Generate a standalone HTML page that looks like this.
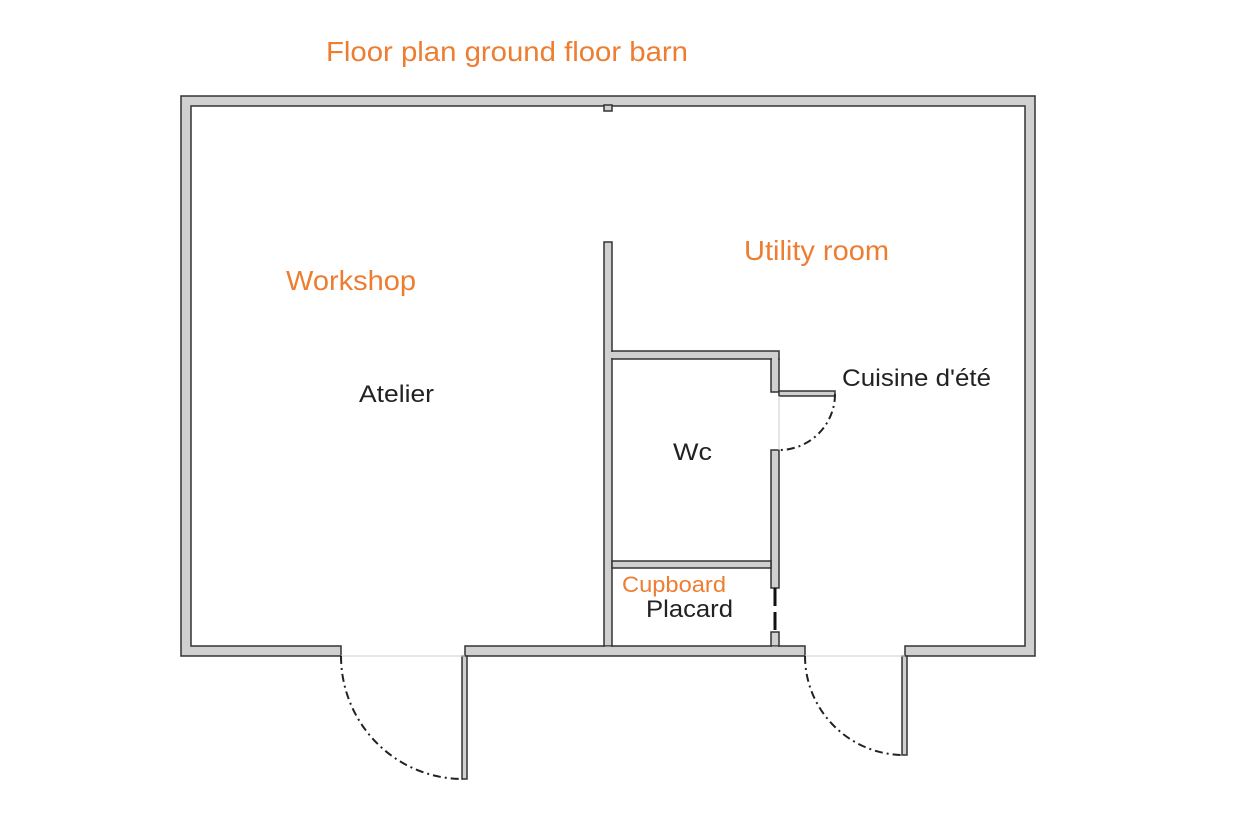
<!DOCTYPE html>
<html><head><meta charset="utf-8"><style>
html,body{margin:0;padding:0;background:#fff;width:1260px;height:832px;overflow:hidden}
</style></head><body>
<svg width="1260" height="832" xmlns="http://www.w3.org/2000/svg" font-family="Liberation Sans, DejaVu Sans, sans-serif">
<g stroke="#333" stroke-width="1.5" fill="#d0d0d0">
<path d="M181,96 H1035 V656 H905 V646 H1025 V106 H191 V646 H341 V656 H181 Z"/>
<path d="M465,646 H805 V656 H465 Z"/>
<rect x="604" y="105" width="8" height="6"/>
<rect x="604" y="242" width="8" height="404"/>
<rect x="612" y="351" width="167" height="8"/>
<rect x="771" y="359" width="8" height="33"/>
<rect x="771" y="450" width="8" height="138"/>
<rect x="612" y="561" width="159" height="7"/>
<rect x="771" y="632" width="8" height="14"/>
<rect x="779" y="391" width="56" height="5"/>
<rect x="462" y="656" width="5" height="123"/>
<rect x="902" y="656" width="5" height="99"/>
</g>
<g fill="#d0d0d0">
<rect x="605" y="646.5" width="6" height="8"/>
<rect x="772" y="646.5" width="6" height="8"/>
<rect x="605" y="352" width="8" height="6"/>
<rect x="772" y="358" width="6" height="2"/>
</g>
<path d="M775,588 V632" stroke="#111" stroke-width="3" stroke-dasharray="18,6"/>
<g stroke="#ccc" stroke-width="1">
<line x1="341" y1="656" x2="465" y2="656"/>
<line x1="805" y1="656" x2="905" y2="656"/>
<line x1="779" y1="396" x2="779" y2="450"/>
</g>
<g fill="none" stroke="#222" stroke-width="2" stroke-dasharray="8,4,2,4">
<path d="M341,656 A122,123 0 0 0 463,779"/>
<path d="M805,656 A99,99 0 0 0 904,755"/>
<path d="M835,394 A56,56 0 0 1 779,450"/>
</g>
<g font-size="28" fill="#ed7d31">
<text x="326" y="61" textLength="362" lengthAdjust="spacingAndGlyphs">Floor plan ground floor barn</text>
<text x="286" y="290" textLength="130" lengthAdjust="spacingAndGlyphs">Workshop</text>
<text x="744" y="260" textLength="145" lengthAdjust="spacingAndGlyphs">Utility room</text>
</g>
<text x="622" y="592" font-size="22" fill="#ed7d31" textLength="104" lengthAdjust="spacingAndGlyphs">Cupboard</text>
<g font-size="24" fill="#222">
<text x="359" y="402" textLength="75" lengthAdjust="spacingAndGlyphs">Atelier</text>
<text x="673" y="460" textLength="39" lengthAdjust="spacingAndGlyphs">Wc</text>
<text x="646" y="617" textLength="87" lengthAdjust="spacingAndGlyphs">Placard</text>
<text x="842" y="386" textLength="149" lengthAdjust="spacingAndGlyphs">Cuisine d'été</text>
</g>
</svg>
</body></html>
